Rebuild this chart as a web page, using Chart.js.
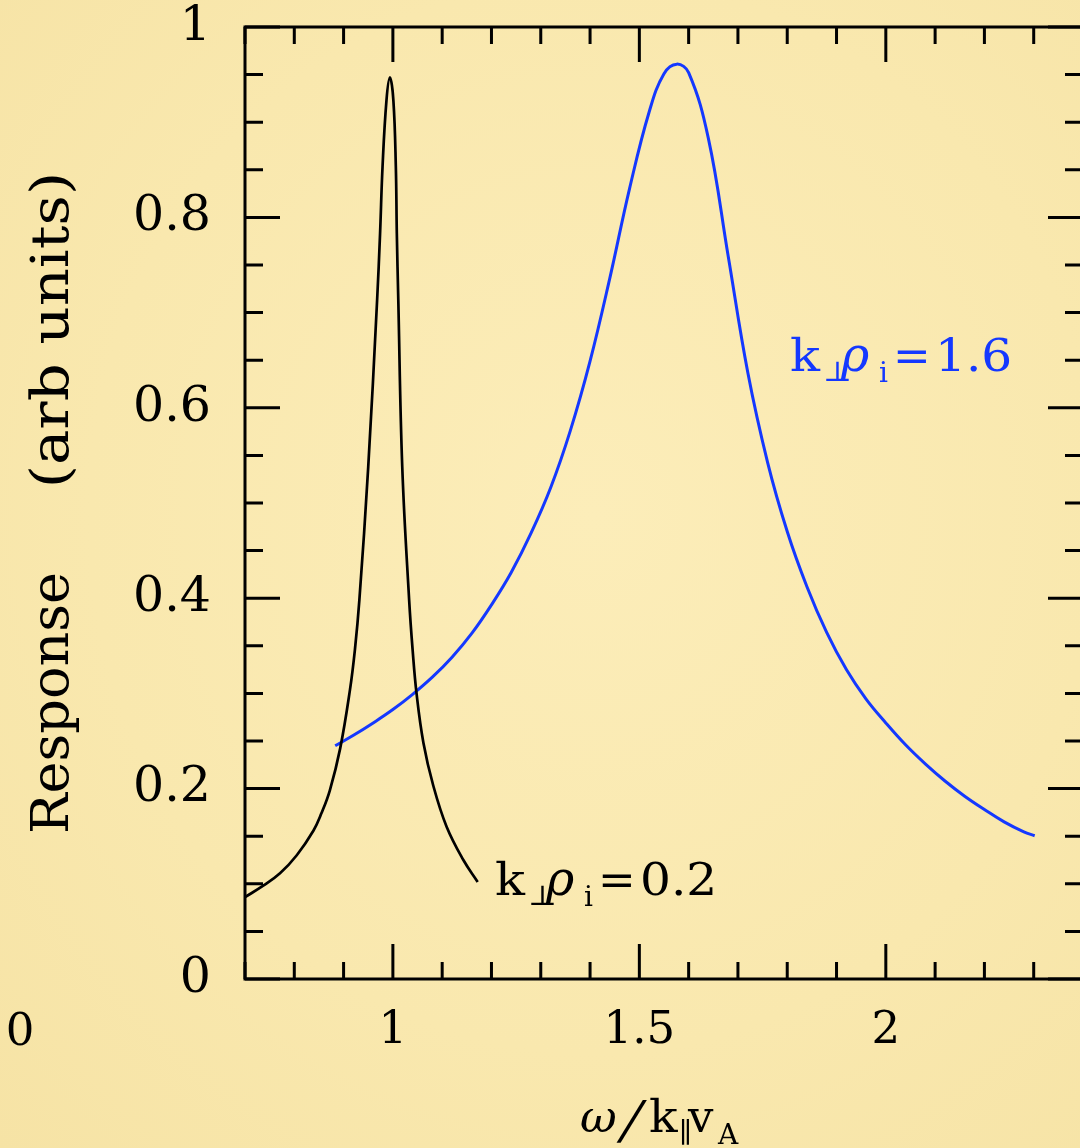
<!DOCTYPE html>
<html><head><meta charset="utf-8">
<script src="https://cdn.jsdelivr.net/npm/chart.js@4.4.1/dist/chart.umd.min.js"></script>
<style>
html,body{margin:0;padding:0;width:1080px;height:1148px;overflow:hidden;
background: radial-gradient(ellipse at 55% 45%, #fcedb9 0%, #f9e8ae 60%, #f6e3a5 100%);}
#wrap{position:absolute;left:0;top:0;width:1100px;height:1148px;}
</style></head><body>
<div id="wrap"><canvas id="c" width="1100" height="1148"></canvas></div>
<script>
// ---- data ----
const blackX = [0.700, 0.737, 0.771, 0.805, 0.839, 0.855, 0.872, 0.893, 0.913, 0.923, 0.932, 0.950, 0.968, 0.974, 0.979, 0.987, 0.994, 1.001, 1.006, 1.008, 1.011, 1.019, 1.033, 1.040, 1.048, 1.062, 1.082, 1.109, 1.143, 1.172];
const blackY = [0.086, 0.098, 0.111, 0.130, 0.156, 0.174, 0.198, 0.242, 0.304, 0.346, 0.398, 0.538, 0.713, 0.783, 0.853, 0.923, 0.947, 0.923, 0.853, 0.783, 0.713, 0.538, 0.398, 0.346, 0.300, 0.248, 0.203, 0.160, 0.125, 0.102];
const blueX = [0.883, 0.92, 0.96, 1.00, 1.04, 1.08, 1.12, 1.16, 1.20, 1.24, 1.28, 1.32, 1.36, 1.40, 1.44, 1.48, 1.52, 1.55, 1.576, 1.60, 1.64, 1.68, 1.72, 1.76, 1.80, 1.84, 1.88, 1.92, 1.96, 2.00, 2.04, 2.08, 2.12, 2.16, 2.20, 2.24, 2.28, 2.302];
const blueY = [0.245, 0.256, 0.269, 0.283, 0.299, 0.317, 0.338, 0.363, 0.393, 0.427, 0.468, 0.516, 0.576, 0.649, 0.736, 0.830, 0.911, 0.951, 0.961, 0.952, 0.883, 0.760, 0.637, 0.543, 0.470, 0.412, 0.364, 0.325, 0.294, 0.269, 0.246, 0.226, 0.208, 0.192, 0.178, 0.165, 0.1545, 0.1505];
const xTickLabels = [1, 1.5, 2];
const yTickLabels = [0, 0.2, 0.4, 0.6, 0.8, 1];
const xRange = [0.7, 2.4];
const yRange = [0, 1];
const xMinorStep = 0.1;
const yMinorStep = 0.05;
const labelBlack = '0.2';
const labelBlue = '1.6';
const yTitleA = 'Response';
const yTitleB = '(arb units)';
const strayLabel = '0';

const SERIF = '"DejaVu Serif", "Liberation Serif", serif';

function isMajor(v, list){ return list.some(t => Math.abs(t - v) < 1e-6); }

function drawParts(ctx, x0, y0, parts, color){
  ctx.fillStyle = color; ctx.textAlign = 'left'; ctx.textBaseline = 'alphabetic';
  for (const p of parts){
    ctx.font = p.font;
    ctx.save();
    ctx.translate(x0 + p.dx, y0 + (p.dy || 0));
    if (p.sx) ctx.scale(p.sx, 1);
    if (p.skew) ctx.transform(1, 0, -p.skew, 1, 0, 0);
    ctx.fillText(p.t, 0, 0);
    ctx.restore();
  }
}

const framePlugin = {
  id: 'frame',
  afterDraw(chart){
    const {ctx, chartArea: a, scales: {x, y}} = chart;
    ctx.save();
    ctx.strokeStyle = '#000'; ctx.lineWidth = 3; ctx.lineCap = 'butt';
    ctx.strokeRect(a.left, a.top, a.right - a.left, a.bottom - a.top);
    const nY = Math.round((yRange[1] - yRange[0]) / yMinorStep);
    for (let i = 0; i <= nY; i++){
      const v = yRange[0] + i * yMinorStep;
      const py = y.getPixelForValue(v);
      const len = isMajor(v, yTickLabels) ? 35 : 18;
      ctx.beginPath();
      ctx.moveTo(a.left, py); ctx.lineTo(a.left + len, py);
      ctx.moveTo(a.right, py); ctx.lineTo(a.right - len, py);
      ctx.stroke();
    }
    const nX = Math.round((xRange[1] - xRange[0]) / xMinorStep);
    for (let i = 0; i <= nX; i++){
      const v = xRange[0] + i * xMinorStep;
      const px = x.getPixelForValue(v);
      const len = isMajor(v, xTickLabels) ? 35 : 17;
      ctx.beginPath();
      ctx.moveTo(px, a.bottom); ctx.lineTo(px, a.bottom - len);
      ctx.moveTo(px, a.top); ctx.lineTo(px, a.top + len);
      ctx.stroke();
    }
    // curve labels
    const big = '45px ' + SERIF, sub = '28px ' + SERIF, ital = 'italic 48px ' + SERIF;
    const mk = (val) => [
      {t: 'k', font: big, dx: 0, sx: 1.1},
      {t: '\u22A5', font: sub, dx: 33, dy: 10, sx: 1.1},
      {t: '\u03C1', font: ital, dx: 51},
      {t: 'i', font: sub, dx: 89, dy: 11},
      {t: '=', font: big, dx: 103},
      {t: val, font: big, dx: 145, sx: 1.08}
    ];
    drawParts(ctx, 495, 895, mk(labelBlack), '#000');
    drawParts(ctx, 790, 371, mk(labelBlue), '#1438ff');
    // x title
    drawParts(ctx, 580, 1132, [
      {t: '\u03C9', font: 'italic 45px ' + SERIF, dx: 0},
      {t: '/', font: '52px ' + SERIF, dx: 38, dy: 6, skew: 0.3},
      {t: 'k', font: big, dx: 69, sx: 1.05},
      {t: '\u2225', font: sub, dx: 99, dy: 10},
      {t: 'v', font: big, dx: 108},
      {t: 'A', font: sub, dx: 138, dy: 12}
    ], '#000');
    // y title (rotated)
    ctx.save();
    ctx.translate(68, 0);
    ctx.rotate(-Math.PI / 2);
    ctx.font = '52px ' + SERIF; ctx.fillStyle = '#000';
    ctx.textAlign = 'center'; ctx.textBaseline = 'alphabetic';
    ctx.save(); ctx.translate(-703, 0); ctx.scale(1.04, 1); ctx.fillText(yTitleA, 0, 0); ctx.restore();
    ctx.save(); ctx.translate(-330, 0); ctx.scale(1.14, 1); ctx.fillText(yTitleB, 0, 0); ctx.restore();
    ctx.restore();
    // stray tick label at bottom-left
    ctx.font = '45px ' + SERIF; ctx.textAlign = 'center'; ctx.fillStyle = '#000';
    ctx.fillText(strayLabel, 20, 1045);
    ctx.restore();
  }
};

new Chart(document.getElementById('c').getContext('2d'), {
  type: 'scatter',
  data: {datasets: [
    {data: blackX.map((v, i) => ({x: v, y: blackY[i]})), showLine: true, borderColor: '#000', borderWidth: 2.7,
     pointRadius: 0, tension: 0.4, fill: false},
    {data: blueX.map((v, i) => ({x: v, y: blueY[i]})), showLine: true, borderColor: '#1438ff', borderWidth: 3,
     pointRadius: 0, tension: 0.4, fill: false}
  ]},
  options: {
    responsive: false, animation: false, events: [],
    layout: {padding: {left: 0, top: 27, right: 17, bottom: 0}},
    plugins: {legend: {display: false}, tooltip: {enabled: false}},
    scales: {
      x: {type: 'linear', min: xRange[0], max: xRange[1],
          grid: {display: false, drawTicks: false}, border: {display: false},
          afterBuildTicks: s => { s.ticks = xTickLabels.map(v => ({value: v})); },
          afterFit: s => { s.height = 169; s.paddingLeft = 0; s.paddingRight = 0; },
          ticks: {padding: 30, color: '#000', font: {family: SERIF, size: 45, lineHeight: 1}, maxRotation: 0, autoSkip: false,
                  callback: v => String(v)}},
      y: {type: 'linear', min: yRange[0], max: yRange[1],
          grid: {display: false, drawTicks: false}, border: {display: false},
          afterBuildTicks: s => { s.ticks = yTickLabels.map(v => ({value: v})); },
          afterFit: s => { s.width = 245; s.paddingTop = 0; s.paddingBottom = 0; },
          ticks: {padding: 34, color: '#000', font: {family: SERIF, size: 49, lineHeight: 1}, autoSkip: false,
                  callback: v => String(v)}}
    }
  },
  plugins: [framePlugin]
});
</script>
</body></html>
